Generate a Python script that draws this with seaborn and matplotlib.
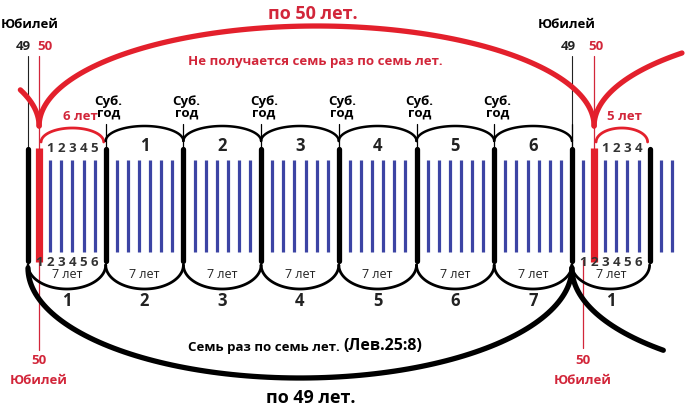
import numpy as np
import matplotlib
matplotlib.use("Agg")
import matplotlib.pyplot as plt
import seaborn as sns

# годы на шкале (0 = юбилей 49 слева)
black_years = [0, 7, 14, 21, 28, 35, 42, 49, 56]
red_years = [1, 51]
last_year = 58
sab_years = [7, 14, 21, 28, 35, 42]
top_numbers = ["1", "2", "3", "4", "5", "6"]
bottom_numbers = ["1", "2", "3", "4", "5", "6", "7", "1"]
left_top_count = ["1", "2", "3", "4", "5"]
left_bottom_count = ["1", "2", "3", "4", "5", "6"]
right_top_count = ["1", "2", "3", "4"]
right_bottom_count = ["1", "2", "3", "4", "5", "6"]

RED = "#e3202c"
RED_TXT = "#d2263a"
BLUE = "#3c44a4"
DARK = "#222222"

X0, U = 28, 11.1  # пиксели
def px(year):
    return X0 + year * U

def half_ellipse(x_a, x_b, base, height, n=120):
    t = np.linspace(0, np.pi, n)
    cx, a = (x_a + x_b) / 2, (x_b - x_a) / 2
    return cx - a * np.cos(t), base - height * np.sin(t)

sns.set_theme(style="white")
plt.rcParams["font.family"] = ["Open Sans", "DejaVu Sans"]

fig = plt.figure(figsize=(6.87, 4.09), dpi=100)
ax = fig.add_axes([0, 0, 1, 1])
ax.set_xlim(0, 687)
ax.set_ylim(409, 0)
ax.axis("off")

def curve(x, y, color, lw):
    sns.lineplot(x=x, y=y, sort=False, estimator=None, color=color,
                 linewidth=lw, ax=ax, legend=False)

# синие линии (обычные годы)
for yr in range(0, last_year + 1):
    if yr in black_years or yr in red_years:
        continue
    ax.plot([px(yr), px(yr)], [160, 252], color=BLUE, lw=2.3, solid_capstyle="butt")

# тонкие линии 49 / 50
for yr in (0, 49):
    ax.plot([px(yr), px(yr)], [56, 148], color=DARK, lw=0.8)
ax.plot([px(1), px(1)], [56, 150], color=RED_TXT, lw=0.9)
ax.plot([px(1), px(1)], [260, 350], color=RED_TXT, lw=0.9)
ax.plot([px(51), px(51)], [56, 150], color=RED_TXT, lw=0.9)
ax.plot([px(50), px(50)], [260, 348], color=RED_TXT, lw=0.9)

# чёрные (субботние) и красные столбики
for yr in black_years:
    ax.plot([px(yr), px(yr)], [149, 261], color="black", lw=3.8, solid_capstyle="round")
for yr in red_years:
    ax.plot([px(yr), px(yr)], [148, 262], color=RED, lw=5.2, solid_capstyle="butt")

# большие красные дуги (по 50 лет)
x, y = half_ellipse(px(1), px(51), 126, 100)
curve(x, y, RED, 3.8)
span = px(51) - px(1)
x, y = half_ellipse(px(1) - span, px(1), 126, 100)
m = x > 20
curve(x[m], y[m], RED, 3.8)
x, y = half_ellipse(px(51), px(51) + span, 126, 100)
m = x < 687
curve(x[m], y[m], RED, 3.8)

# малые красные дуги
x, y = half_ellipse(px(1) + 2, px(7) - 2, 142, 14)
curve(x, y, RED, 2.0)
x, y = half_ellipse(px(51) + 2, px(56) - 2, 142, 14)
curve(x, y, RED, 2.0)

# верхние чёрные дуги между субботними годами
for i in range(len(top_numbers)):
    x, y = half_ellipse(px(sab_years[i]), px(sab_years[i] + 7), 141, 15)
    curve(x, y, "black", 1.8)
    ax.text((px(sab_years[i]) + px(sab_years[i] + 7)) / 2, 146, top_numbers[i],
            ha="center", va="center", fontsize=12, fontweight="bold", color=DARK)
for yr in sab_years + [49]:
    ax.plot([px(yr), px(yr)], [124, 148], color="black", lw=0.9)
for yr in sab_years:
    ax.text(px(yr) + 3, 101, "Суб.", ha="center", va="center", fontsize=9.5,
            fontweight="bold", color="black")
    ax.text(px(yr) + 3, 113, "год", ha="center", va="center", fontsize=9.5,
            fontweight="bold", color="black")

# нижние чёрные дуги (по 7 лет)
for i in range(len(bottom_numbers)):
    a, b = px(black_years[i]), px(black_years[i + 1])
    x, y = half_ellipse(a, b, 265, -24)
    curve(x, y, "black", 2.0)
    ax.text((a + b) / 2, 275, "7 лет", ha="center", va="center", fontsize=9,
            color=DARK)
    ax.text((a + b) / 2, 301, bottom_numbers[i], ha="center", va="center",
            fontsize=12, fontweight="bold", color=DARK)

# большая чёрная дуга (по 49 лет)
x, y = half_ellipse(px(0), px(49), 268, -110)
curve(x, y, "black", 3.8)
x, y = half_ellipse(px(49), px(49) + (px(49) - px(0)), 268, -110)
m = x < 664
curve(x[m], y[m], "black", 3.8)

# маленькие цифры счёта
for lbls, start, ypos in ((left_top_count, 2, 149), (left_bottom_count, 1, 263),
                          (right_top_count, 52, 149), (right_bottom_count, 50, 263)):
    for k, s in enumerate(lbls):
        ax.text(px(start + k), ypos, s, ha="center", va="center", fontsize=9.5,
                fontweight="bold", color="#333333")

# подписи
ax.text(313, 14, "по 50 лет.", ha="center", va="center", fontsize=13,
        fontweight="bold", color=RED_TXT)
ax.text(315, 62, "Не получается семь раз по семь лет.", ha="center", va="center",
        fontsize=9.5, fontweight="bold", color=RED_TXT)
for xc in (30, 567):
    ax.text(xc, 25, "Юбилей", ha="center", va="center", fontsize=9.5,
            fontweight="bold", color="black")
ax.text(px(0) - 5, 47, "49", ha="center", va="center", fontsize=9.5,
        fontweight="bold", color=DARK)
ax.text(px(1) + 6, 47, "50", ha="center", va="center", fontsize=9.5,
        fontweight="bold", color=RED_TXT)
ax.text(px(49) - 4, 47, "49", ha="center", va="center", fontsize=9.5,
        fontweight="bold", color=DARK)
ax.text(px(51) + 2, 47, "50", ha="center", va="center", fontsize=9.5,
        fontweight="bold", color=RED_TXT)
ax.text(80, 116, "6 лет", ha="center", va="center", fontsize=9.5,
        fontweight="bold", color=RED_TXT)
ax.text(624, 116, "5 лет", ha="center", va="center", fontsize=9.5,
        fontweight="bold", color=RED_TXT)
for xc in (px(1), px(50)):
    ax.text(xc, 360, "50", ha="center", va="center", fontsize=9.5,
            fontweight="bold", color=RED_TXT)
    ax.text(xc, 381, "Юбилей", ha="center", va="center", fontsize=9.5,
            fontweight="bold", color=RED_TXT)
ax.text(343, 348, "Семь раз по семь лет. ", ha="right", va="center", fontsize=9.5,
        fontweight="bold", color="black")
ax.text(343, 346, "(Лев.25:8)", ha="left", va="center", fontsize=11.5,
        fontweight="bold", color="black")
ax.text(311, 398, "по 49 лет.", ha="center", va="center", fontsize=13,
        fontweight="bold", color="black")

fig.savefig("out.png", dpi=100)
